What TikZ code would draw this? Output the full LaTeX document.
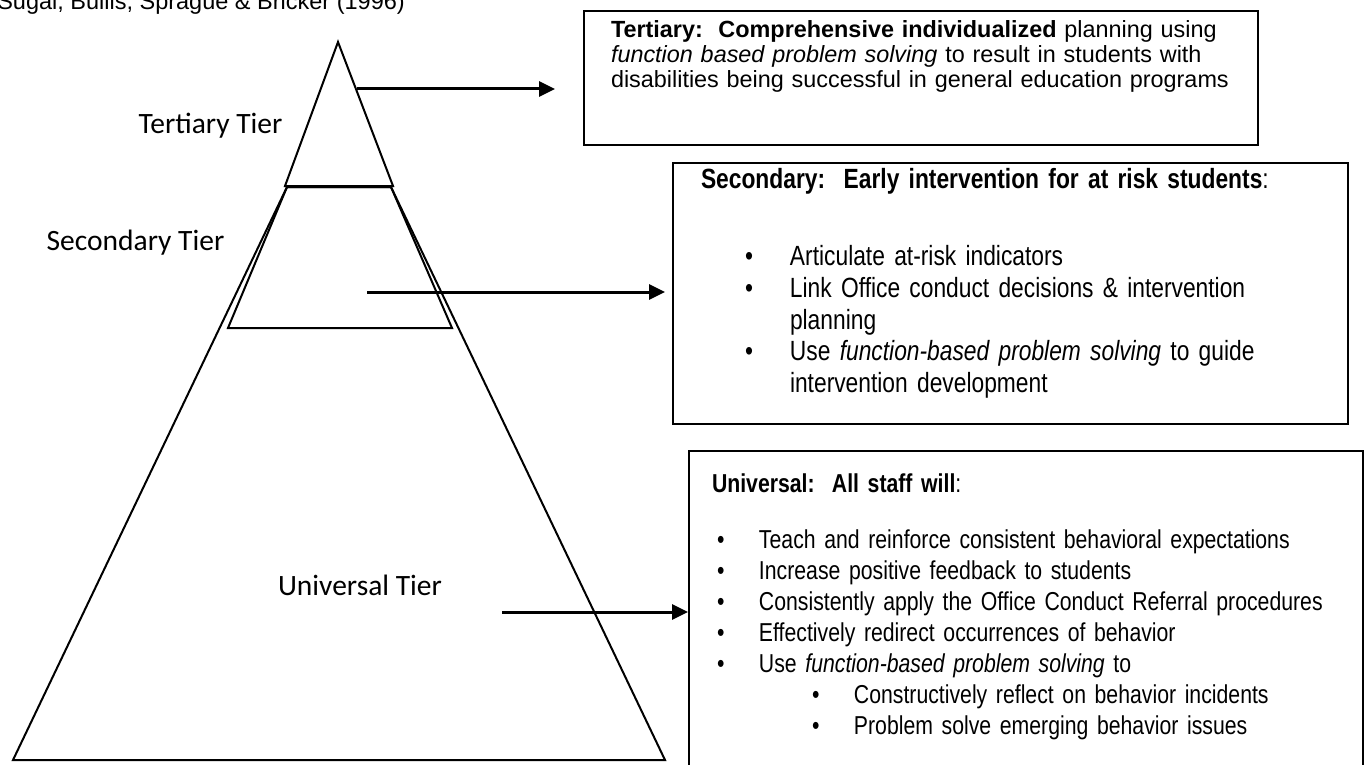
\documentclass[tikz,border=0pt]{standalone}
\usepackage{fontspec}
\setmainfont{Liberation Sans}
\newfontfamily\calibrifont{Carlito}
\newfontfamily\narrowfont[FakeStretch=0.82]{Liberation Sans}
\usetikzlibrary{arrows.meta}
\newcommand{\bitem}[3]{\hspace*{#1}\makebox[#2][l]{\textbullet}#3}
\newcommand{\secondaryfont}{\narrowfont\fontsize{27.8}{31.7}\selectfont}
\newcommand{\universalfont}{\narrowfont\fontsize{25.9}{31}\selectfont}

\begin{document}
\begin{tikzpicture}[x=1pt, y=-1pt,
  tier/.style={line width=2pt},
  tierlabel/.style={font=\calibrifont\fontsize{29.5}{33}\selectfont, inner sep=0},
  infobox/.style={draw=black, line width=2pt, anchor=north west, align=left},
  pointer/.style={line width=3pt, -{Triangle[length=16pt, width=15pt]}}]
\useasboundingbox (0,0) rectangle (1368,765);

\node[anchor=base east, inner sep=0, font=\fontsize{23.5}{26}\selectfont] (source) at (405,10) {Sugai, Bullis, Sprague \& Bricker (1996)};

\draw[tier] (13,760) -- (287,187) -- (391,187) -- (665,760) -- cycle;
\draw[tier] (228,328) -- (287,187) -- (391,187) -- (452,328) -- cycle;
\draw[tier] (285,186) -- (338,42) -- (393,186) -- cycle;

\node[tierlabel] (tertiary) at (210.5,126) {Tertiary Tier};
\node[tierlabel] (secondary) at (135.5,243) {Secondary Tier};
\node[tierlabel] (universal) at (360,585) {Universal Tier};

\node[infobox, text width=620pt, inner xsep=27pt, inner ysep=8pt, text height=19pt, text depth=99pt, font=\fontsize{23.4}{25}\selectfont] (tbox) at (583,10) {\textbf{Tertiary:\ \ Comprehensive individualized} planning using\\\textit{function based problem solving} to result in students with\\disabilities being successful in general education programs};

\node[infobox, text width=619pt, inner xsep=28pt, inner ysep=6pt, text height=19pt, text depth=230pt, font=\secondaryfont] (sbox) at (672,162) {\textbf{Secondary:\ \ Early intervention for at risk students}:\\[46pt]
\bitem{44pt}{45pt}{Articulate at-risk indicators}\\
\bitem{44pt}{45pt}{Link Office conduct decisions \& intervention}\\
\hspace*{89pt}planning\\
\bitem{44pt}{45pt}{Use \textit{function-based problem solving} to guide}\\
\hspace*{89pt}intervention development};

\node[infobox, text width=628pt, inner xsep=23pt, inner ysep=6pt, text height=35pt, text depth=293pt, font=\universalfont] (ubox) at (688,450) {\textbf{Universal:\ \ All staff will}:\\[25pt]
\bitem{5pt}{42pt}{Teach and reinforce consistent behavioral expectations}\\
\bitem{5pt}{42pt}{Increase positive feedback to students}\\
\bitem{5pt}{42pt}{Consistently apply the Office Conduct Referral procedures}\\
\bitem{5pt}{42pt}{Effectively redirect occurrences of behavior}\\
\bitem{5pt}{42pt}{Use \textit{function-based problem solving} to}\\
\bitem{100pt}{42pt}{Constructively reflect on behavior incidents}\\
\bitem{100pt}{42pt}{Problem solve emerging behavior issues}};

\coordinate (tertiary-from) at (357,89);
\coordinate (secondary-from) at (367,292);
\coordinate (universal-from) at (502,612);
\draw[pointer, shorten >=28pt] (tertiary-from) -- (tertiary-from -| tbox.west);
\draw[pointer, shorten >=7pt] (secondary-from) -- (secondary-from -| sbox.west);
\draw[pointer] (universal-from) -- (universal-from -| ubox.west);

\end{tikzpicture}
\end{document}
